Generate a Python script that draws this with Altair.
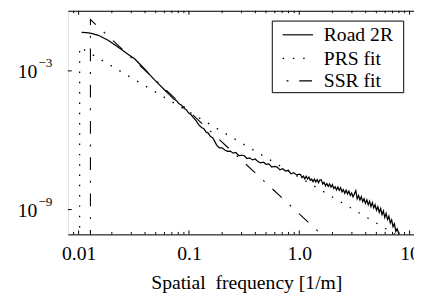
import json
import altair as alt
import pandas as pd

FONT = "Liberation Serif"

# ---- data (log10 values of frequency [1/m] and PSD [m^3]) ----
road_log10_freq = [
    -1.973, -1.929, -1.884, -1.822, -1.778, -1.733, -1.680, -1.618, -1.556, -1.493,
    -1.449, -1.404, -1.360, -1.316, -1.271, -1.227, -1.182, -1.138, -1.110, -1.093,
    -1.070, -1.049, -1.025, -1.004, -0.980, -0.960, -0.935, -0.907, -0.885, -0.865,
    -0.845, -0.825, -0.805, -0.785, -0.765,
    -0.750, -0.725, -0.700, -0.675, -0.650, -0.625, -0.600, -0.575, -0.550, -0.525,
    -0.500, -0.475, -0.450, -0.425, -0.400, -0.375, -0.350, -0.325, -0.300, -0.275,
    -0.250, -0.225, -0.200, -0.175, -0.150, -0.125, -0.100, -0.075, -0.050, -0.025,
    0.000,
    0.0125, 0.0250, 0.0375, 0.0500, 0.0625, 0.0750, 0.0875, 0.1000, 0.1125, 0.1250,
    0.1375, 0.1500, 0.1625, 0.1750, 0.1875, 0.2000, 0.2125, 0.2250, 0.2375, 0.2500,
    0.2625, 0.2750, 0.2875, 0.3000, 0.3125, 0.3250, 0.3375, 0.3500, 0.3625, 0.3750,
    0.3875, 0.4000, 0.4125, 0.4250, 0.4375, 0.4500, 0.4625, 0.4750, 0.4875, 0.5000,
    0.5125, 0.5250, 0.5375, 0.5500, 0.5625, 0.5750, 0.5875, 0.6000, 0.6125, 0.6250,
    0.6375, 0.6500, 0.6625, 0.6750, 0.6875, 0.7000, 0.7125, 0.7250, 0.7375, 0.7500,
    0.7625, 0.7750, 0.7875, 0.8000, 0.8125, 0.8250, 0.8375, 0.8500, 0.8625, 0.8750,
    0.8875, 0.9000, 0.9100,
]
road_log10_psd = [
    -1.333, -1.345, -1.375, -1.460, -1.566, -1.672, -1.842, -2.054, -2.266, -2.478,
    -2.690, -2.902, -3.136, -3.369, -3.581, -3.793, -4.006, -4.218, -4.300, -4.409,
    -4.470, -4.600, -4.680, -4.812, -4.900, -5.024, -5.150, -5.360, -5.450, -5.500,
    -5.640, -5.690, -5.840, -5.890, -6.060,
    -6.20, -6.33, -6.33, -6.42, -6.48, -6.47, -6.56, -6.53, -6.66, -6.65,
    -6.66, -6.79, -6.76, -6.85, -6.81, -6.92, -6.98, -6.95, -7.04, -7.02,
    -7.16, -7.13, -7.16, -7.28, -7.23, -7.33, -7.30, -7.45, -7.40, -7.50,
    -7.47,
    -7.49, -7.62, -7.55, -7.67, -7.56, -7.68, -7.59, -7.74, -7.68, -7.79,
    -7.68, -7.81, -7.70, -7.84, -7.71, -7.71, -7.89, -7.82, -7.97, -7.87,
    -8.00, -7.89, -8.03, -7.92, -8.09, -8.01, -8.15, -8.02, -8.17, -8.06,
    -8.23, -8.14, -8.30, -8.16, -8.32, -8.20, -8.39, -8.28, -8.45, -8.31,
    -8.18, -8.53, -8.39, -8.58, -8.44, -8.66, -8.53, -8.73, -8.58, -8.79,
    -8.64, -8.87, -8.70, -8.93, -8.79, -9.03, -8.88, -9.12, -8.95, -9.22,
    -9.06, -9.34, -9.17, -9.43, -9.28, -9.58, -9.44, -9.74, -9.61, -9.94,
    -9.83, -10.00, -10.40,
]

prs_freq = [0.01021, 0.01021, 10.0]
prs_psd = [1e-12, 1.07e-2, 3.7e-11]

ssr_freq = [0.01279, 0.01279, 2.0]
ssr_psd = [1e-12, 0.1656, 3.0e-11]

x_major_ticks = [0.01, 0.1, 1.0, 10.0]
x_tick_labels = ["0.01", "0.1", "1.0", "10"]
x_minor_ticks = [0.009,
                 0.02, 0.03, 0.04, 0.05, 0.06, 0.07, 0.08, 0.09,
                 0.2, 0.3, 0.4, 0.5, 0.6, 0.7, 0.8, 0.9,
                 2.0, 3.0, 4.0, 5.0, 6.0, 7.0, 8.0, 9.0]
y_tick_values = [1e-3, 1e-9]
y_tick_exponents = ["\u22123", "\u22129"]
legend_labels = ["Road 2R", "PRS fit", "SSR fit"]

# ---- tables ----
road = pd.DataFrame({
    "f": [10 ** v for v in road_log10_freq],
    "psd": [10 ** v for v in road_log10_psd],
})
road["i"] = range(len(road))
prs = pd.DataFrame({"f": prs_freq, "psd": prs_psd, "i": range(len(prs_freq))})
ssr = pd.DataFrame({"f": ssr_freq, "psd": ssr_psd, "i": range(len(ssr_freq))})
xmaj = pd.DataFrame({"t": x_major_ticks})
xmin = pd.DataFrame({"t": x_minor_ticks})
ylab = pd.DataFrame({"v": y_tick_values, "base": ["10"] * len(y_tick_values),
                     "exp": y_tick_exponents})

# ---- scales ----
xs = alt.Scale(type="log", domain=[0.00798, 12.589], range=[0, 359.75], nice=False)
ys = alt.Scale(type="log", domain=[8.47e-11, 0.399], nice=False)

label_expr = f"{json.dumps(x_tick_labels)}[indexof({json.dumps(x_major_ticks)}, datum.value)]"

x_axis = alt.Axis(
    values=x_major_ticks, labelExpr=label_expr, ticks=False, tickSize=0,
    labelPadding=25.5, labelBaseline="alphabetic", labelFont=FONT, labelFontSize=20,
    labelColor="black", labelOverlap=False, labelFlush=False, grid=False,
    domainColor="black", domainWidth=1,
    title="Spatial\u00a0 frequency [1/m]", titleFont=FONT, titleFontSize=20,
    titleFontWeight="normal", titleColor="black", titleX=182, titleY=55,
    titleBaseline="alphabetic", titleAlign="center",
)
top_axis = alt.Axis(orient="top", labels=False, ticks=False, tickSize=0, grid=False,
                    domainColor="black", domainWidth=1, title="")
y_axis = alt.Axis(
    labels=False, ticks=False, tickSize=0, grid=False, domainColor="black", domainWidth=1,
    title="PSD [m\u00b3]", titleFont=FONT, titleFontSize=20, titleFontWeight="normal",
    titleColor="black", titleX=-48, titleY=116.5, titleAngle=270,
    titleBaseline="alphabetic", titleAlign="center",
)

# ---- data lines ----
road_line = alt.Chart(road).mark_line(color="black", strokeWidth=1.25, clip=True).encode(
    x=alt.X("f:Q", scale=xs, axis=x_axis),
    y=alt.Y("psd:Q", scale=ys, axis=y_axis),
    order="i:Q",
)
prs_line = alt.Chart(prs).mark_line(color="black", strokeWidth=1.3, strokeDash=[1.5, 9],
                                    clip=True).encode(
    x=alt.X("f:Q", scale=xs, axis=None),
    y=alt.Y("psd:Q", scale=ys, axis=None),
    order="i:Q",
)
ssr_line = alt.Chart(ssr).mark_line(color="black", strokeWidth=1.1,
                                    strokeDash=[13, 11, 2, 11], clip=True).encode(
    x=alt.X("f:Q", scale=xs, axis=None),
    y=alt.Y("psd:Q", scale=ys, axis=None),
    order="i:Q",
)

# ---- inward ticks ----
bot_major = alt.Chart(xmaj).mark_rule(color="black").encode(
    x=alt.X("t:Q", scale=xs, axis=None), y=alt.value(228), y2=alt.value(224))
bot_minor = alt.Chart(xmin).mark_rule(color="black").encode(
    x=alt.X("t:Q", scale=xs, axis=None), y=alt.value(228), y2=alt.value(225.5))
top_major = alt.Chart(xmaj).mark_rule(color="black").encode(
    x=alt.X("t:Q", scale=xs, axis=top_axis), y=alt.value(0), y2=alt.value(4))
top_minor = alt.Chart(xmin).mark_rule(color="black").encode(
    x=alt.X("t:Q", scale=xs, axis=None), y=alt.value(0), y2=alt.value(2.5))
left_ticks = alt.Chart(ylab).mark_rule(color="black").encode(
    y=alt.Y("v:Q", scale=ys, axis=None), x=alt.value(0), x2=alt.value(4))

# ---- y tick labels 10^-n ----
ybase = alt.Chart(ylab).mark_text(font=FONT, fontSize=20, align="right",
                                  baseline="alphabetic", dy=7.5, color="black").encode(
    y=alt.Y("v:Q", scale=ys, axis=None), x=alt.value(-31), text="base:N")
yexp = alt.Chart(ylab).mark_text(font=FONT, fontSize=13.5, align="left",
                                 baseline="alphabetic", dy=-4, color="black").encode(
    y=alt.Y("v:Q", scale=ys, axis=None), x=alt.value(-30), text="exp:N")

# ---- legend box ----
legend_row_y = [24, 48, 71]
box = alt.Chart(pd.DataFrame({"k": [0]})).mark_rect(
    fill="white", stroke="black", strokeWidth=1).encode(
    x=alt.value(208.5), x2=alt.value(342.5), y=alt.value(10.5), y2=alt.value(83.5))

leg_layers = [box]
dash_styles = [dict(), dict(strokeDash=[1.5, 9], strokeWidth=1.3),
               dict(strokeDash=[13, 11, 2, 11], strokeDashOffset=20, strokeWidth=1.1)]
for lab, ry, sty in zip(legend_labels, legend_row_y, dash_styles):
    d = pd.DataFrame({"label": [lab]})
    kw = dict(color="black")
    kw.update(sty)
    if "strokeWidth" not in kw:
        kw["strokeWidth"] = 1.2
    leg_layers.append(alt.Chart(d).mark_rule(**kw).encode(
        x=alt.value(219), x2=alt.value(250), y=alt.value(ry + 0.5)))
    leg_layers.append(alt.Chart(d).mark_text(
        font=FONT, fontSize=20, align="left", baseline="middle", color="black").encode(
        x=alt.value(261), y=alt.value(ry + 1), text="label:N"))

chart = alt.layer(
    road_line, prs_line, ssr_line,
    bot_major, bot_minor, top_major, top_minor, left_ticks,
    ybase, yexp, *leg_layers,
).resolve_axis(x="independent").properties(
    width=353, height=228,
    padding={"left": 61, "top": 0, "right": 0, "bottom": 60},
    autosize=alt.AutoSizeParams(type="none"),
).configure_view(strokeWidth=0).configure(font=FONT)

chart.save("out.html", embed_options={"renderer": "svg", "actions": False})
